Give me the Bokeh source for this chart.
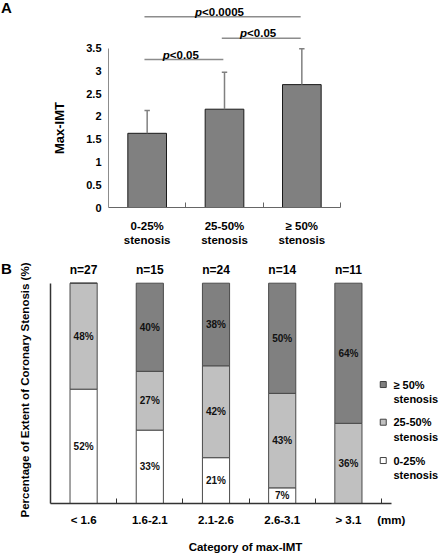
import numpy as np
from bokeh.plotting import figure
from bokeh.models import Range1d, FixedTicker, ColumnDataSource, NumeralTickFormatter, Div
from bokeh.layouts import column, row
from bokeh.embed import file_html
from bokeh.resources import INLINE
from bokeh.core.properties import value

FONT = "Liberation Sans"

# ---------------- Panel A data ----------------
a_title = "Max-IMT"
a_categories = ["0-25%\nstenosis", "25-50%\nstenosis", "\u2265 50%\nstenosis"]
a_means = [1.63, 2.16, 2.70]
a_upper = [2.13, 2.97, 3.49]
a_ticks = [0, 0.5, 1, 1.5, 2, 2.5, 3, 3.5]
sig_from = [0, 1, 0]
sig_to = [1, 2, 2]
sig_labels = ["<0.05", "<0.05", "<0.0005"]
sig_level = [3.25, 3.72, 4.19]

# ---------------- Panel B data ----------------
b_title = "Percentage of Extent of Coronary Stenosis (%)"
b_categories = ["< 1.6", "1.6-2.1", "2.1-2.6", "2.6-3.1", "> 3.1"]
b_unit = "(mm)"
b_n = [27, 15, 24, 14, 11]
b_low = [51.9, 33.3, 20.8, 7.1, 0.0]
b_mid = [48.1, 26.7, 41.7, 42.9, 36.4]
b_high = [0.0, 40.0, 37.5, 50.0, 63.6]
b_series = ["\u2265 50%", "25-50%", "0-25%"]
b_colors = ["#808080", "#c0c0c0", "#ffffff"]

HA, HB = 250, 305
DWA, DWB = 70, 40


def side_div(letter, letter_top, label, label_size, cx, cy, w, h):
    html = (
        f'<div style="position:relative;width:{w}px;height:{h}px;font-family:\'{FONT}\';'
        f'font-weight:bold;color:black;">'
        f'<div style="position:absolute;left:1px;top:{letter_top}px;font-size:15px;line-height:16px;">{letter}</div>'
        f'<div style="position:absolute;left:{cx}px;top:{cy}px;font-size:{label_size};line-height:1;'
        f'white-space:nowrap;transform:translate(-50%,-50%) rotate(-90deg);">{label}</div>'
        f'</div>'
    )
    return Div(text=html, width=w, height=h, margin=0)


# ================= Panel A =================
pA = figure(width=440 - DWA, height=HA, x_range=Range1d(0, 3), y_range=Range1d(0, 4.548),
            output_backend="svg", toolbar_location=None,
            min_border_left=38, min_border_right=100, min_border_top=0, min_border_bottom=43)
pA.frame_align = False
pA.outline_line_color = None
pA.grid.visible = False
pA.background_fill_color = None

xa = np.arange(len(a_means)) + 0.5
pA.vbar(x=xa, top=a_means, width=0.5, fill_color="#808080", line_color="#1a1a1a", line_width=1)
pA.segment(x0=xa, y0=a_means, x1=xa, y1=a_upper, line_color="#808080", line_width=1.5)
pA.segment(x0=xa - 0.035, y0=a_upper, x1=xa + 0.035, y1=a_upper, line_color="#808080", line_width=1.5)

sf = np.array(sig_from)
st = np.array(sig_to)
sx0 = xa[sf] - 0.035
sx1 = xa[st] - 0.015
smid = (sx0 + sx1) / 2 - 0.04
fs = 11.5
pw = 0.611 * fs
rest_w = np.array([(0.584 + 0.278 + 0.556 * (len(s) - 2)) * fs for s in sig_labels])
offs = -(pw + rest_w) / 2 + pw
sig_src = ColumnDataSource(dict(x0=sx0, x1=sx1, xm=smid, y=sig_level, lab=sig_labels,
                                p=["p"] * len(sig_labels), off=offs))
pA.segment(x0="x0", y0="y", x1="x1", y1="y", source=sig_src, line_color="#8c8c8c", line_width=1.5)
pA.text(x="xm", y="y", text="p", x_offset="off", y_offset=-5, source=sig_src,
        text_align="right", text_baseline="alphabetic", text_font=value(FONT),
        text_font_style="bold italic", text_font_size="11.5px", text_color="black")
pA.text(x="xm", y="y", text="lab", x_offset="off", y_offset=-5, source=sig_src,
        text_align="left", text_baseline="alphabetic", text_font=value(FONT),
        text_font_style="bold", text_font_size="11.5px", text_color="black")

ya = pA.yaxis[0]
ya.bounds = (0, 3.5)
ya.ticker = FixedTicker(ticks=a_ticks)
ya.formatter = NumeralTickFormatter(format="0.[0]")
ya.major_tick_in = 0
ya.major_tick_out = 0
ya.minor_tick_in = 0
ya.minor_tick_out = 0
ya.major_label_standoff = 7
ya.major_label_text_font = FONT
ya.major_label_text_font_style = "bold"
ya.major_label_text_font_size = "11px"
ya.major_label_text_color = "black"
ya.axis_line_color = "#8c8c8c"

xaA = pA.xaxis[0]
xaA.bounds = (0, 3)
xaA.ticker = FixedTicker(ticks=list(xa), minor_ticks=[1, 2, 3])
xaA.major_label_overrides = {float(x): c for x, c in zip(xa, a_categories)}
xaA.major_tick_in = 0
xaA.major_tick_out = 0
xaA.minor_tick_in = 5
xaA.minor_tick_out = 0
xaA.minor_tick_line_color = "#666666"
xaA.major_label_standoff = 12
xaA.major_label_text_font = FONT
xaA.major_label_text_font_style = "bold"
xaA.major_label_text_font_size = "11.5px"
xaA.major_label_text_color = "black"
xaA.axis_line_color = "#666666"

# ================= Panel B =================
pB = figure(width=440 - DWB, height=HB, x_range=Range1d(0, 5.891), y_range=Range1d(0, 114.84),
            output_backend="svg", toolbar_location=None,
            min_border_left=10, min_border_right=0, min_border_top=0, min_border_bottom=52)
pB.frame_align = False
pB.outline_line_color = None
pB.grid.visible = False
pB.background_fill_color = None

xb = np.arange(len(b_categories)) + 0.5
b_src = ColumnDataSource(dict(x=xb, low=b_low, mid=b_mid, high=b_high))
pB.vbar_stack(["low", "mid", "high"], x="x", width=0.41, source=b_src,
              fill_color=[b_colors[2], b_colors[1], b_colors[0]], line_color="#4a4a4a", line_width=1)

low = np.array(b_low)
mid = np.array(b_mid)
high = np.array(b_high)
seg_x, seg_y, seg_t = [], [], []
for vals, base in ((low, np.zeros_like(low)), (mid, low), (high, low + mid)):
    for i in range(len(xb)):
        if vals[i] > 0:
            seg_x.append(xb[i])
            seg_y.append(base[i] + vals[i] / 2)
            seg_t.append(f"{round(vals[i])}%")
pB.text(x=seg_x, y=seg_y, text=seg_t, text_align="center", text_baseline="middle",
        text_font=value(FONT), text_font_style="bold", text_font_size="10px", text_color="#111111")

pB.text(x=xb, y=[100] * len(xb), text=[f"n={n}" for n in b_n], y_offset=-13.4,
        text_align="center", text_baseline="middle", text_font=value(FONT),
        text_font_style="bold", text_font_size="12px", text_color="black")

# legend
leg_x = 5.026
leg_y = [54.0, 36.9, 19.5]
pB.scatter(x=[leg_x] * 3, y=leg_y, marker="square", size=6, fill_color=b_colors, line_color="#404040")
pB.text(x=[leg_x + 0.155] * 3, y=leg_y, text=b_series, text_align="left", text_baseline="middle",
        text_font=value(FONT), text_font_style="bold", text_font_size="11px", text_color="black")
pB.text(x=[leg_x + 0.155] * 3, y=leg_y, text=["stenosis"] * 3, y_offset=14.3,
        text_align="left", text_baseline="middle",
        text_font=value(FONT), text_font_style="bold", text_font_size="11px", text_color="black")

yb = pB.yaxis[0]
yb.bounds = (0, 100)
yb.ticker = FixedTicker(ticks=[])
yb.major_tick_in = 0
yb.major_tick_out = 0
yb.minor_tick_in = 0
yb.minor_tick_out = 0
yb.axis_line_color = "#333333"
yb.axis_line_width = 1.5

xbB = pB.xaxis[0]
xbB.bounds = (0, 5.15)
unit_x = 5.147
xbB.ticker = FixedTicker(ticks=list(xb) + [unit_x], minor_ticks=[1, 2, 3, 4, 5])
ov = {float(x): c for x, c in zip(xb, b_categories)}
ov[unit_x] = b_unit
xbB.major_label_overrides = ov
xbB.major_tick_in = 0
xbB.major_tick_out = 0
xbB.minor_tick_in = 5
xbB.minor_tick_out = 0
xbB.minor_tick_line_color = "#333333"
xbB.major_label_standoff = 10
xbB.major_label_text_font = FONT
xbB.major_label_text_font_style = "bold"
xbB.major_label_text_font_size = "11.5px"
xbB.major_label_text_color = "black"
xbB.axis_line_color = "#333333"
xbB.axis_line_width = 1.5
xbB.axis_label = "Category of max-IMT"
xbB.axis_label_text_font = FONT
xbB.axis_label_text_font_style = "bold"
xbB.axis_label_text_font_size = "11.5px"
xbB.axis_label_text_color = "black"
xbB.axis_label_standoff = 12

divA = side_div("A", 0, a_title, "13px", 58.7, 128, DWA, HA)
divB = side_div("B", 11, b_title, "11.5px", 25.5, 140, DWB, HB)

layout = column(row(divA, pA, spacing=0), row(divB, pB, spacing=0), spacing=0)
open("out.html", "w").write(file_html(layout, INLINE))
